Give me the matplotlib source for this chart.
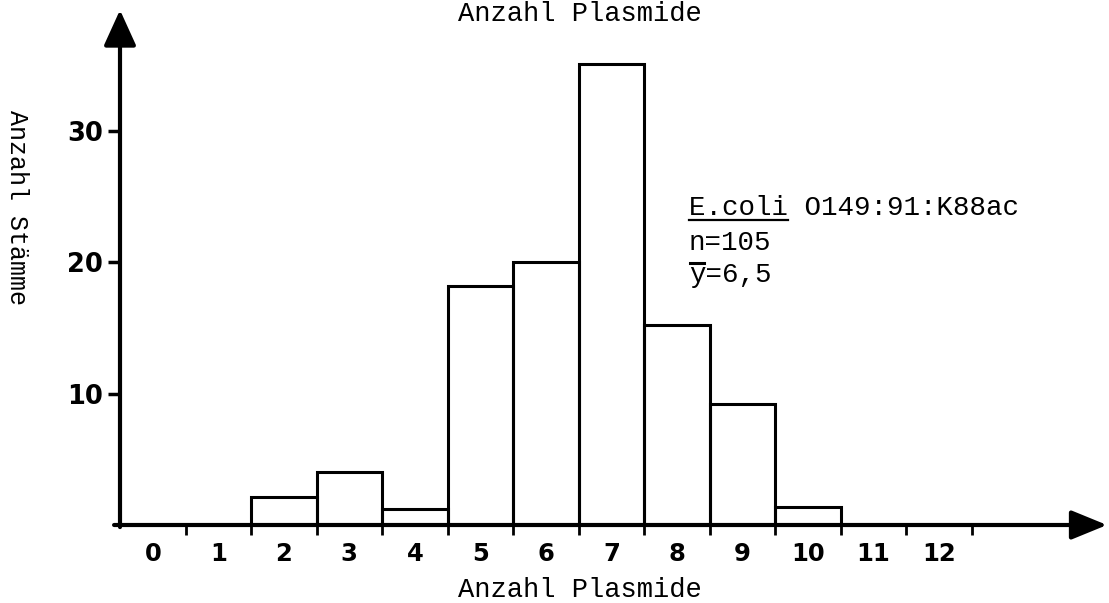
import numpy as np
import matplotlib
matplotlib.use("Agg")
import matplotlib.pyplot as plt
from matplotlib.lines import Line2D

# Daten
plasmide = [2, 3, 4, 5, 6, 7, 8, 9, 10]
staemme = [2.1, 4.0, 1.2, 18.2, 20.0, 35.1, 15.2, 9.2, 1.35]
x_labels = [str(i) for i in range(13)]
y_ticks = [10, 20, 30]

mono = "Liberation Mono"
sans = "DejaVu Sans"

W, H = 1109, 603
fig = plt.figure(figsize=(W / 100, H / 100), dpi=100)

# Achse in Pixelkoordinaten platzieren
left, right, bottom, top = 120, 1107, 525, 10
ax = fig.add_axes([left / W, (H - bottom) / H, (right - left) / W, (bottom - top) / H])
ax.set_xlim(-0.5, (right - 153) / 65.5)
ax.set_ylim(0, (bottom - top) / 13.13)
for s in ax.spines.values():
    s.set_visible(False)

# Balken
ax.bar(plasmide, staemme, width=1.0, fill=False, edgecolor="black", linewidth=2.2)

# Achsen mit Pfeilen
ax.annotate("", xy=(1, 0), xytext=(-0.006, 0), xycoords="axes fraction",
            arrowprops=dict(arrowstyle="-|>,head_length=1.1,head_width=0.45",
                            lw=3, color="black", shrinkA=0, shrinkB=0,
                            mutation_scale=20), annotation_clip=False)
ax.annotate("", xy=(0, 1), xytext=(0, -0.004), xycoords="axes fraction",
            arrowprops=dict(arrowstyle="-|>,head_length=1.1,head_width=0.5",
                            lw=3, color="black", shrinkA=0, shrinkB=0,
                            mutation_scale=20), annotation_clip=False)

# x-Ticks: Beschriftungen bei ganzen Zahlen, Striche bei halben
ax.set_xticks(range(13))
ax.set_xticklabels(x_labels, fontsize=17.5, fontweight="bold", family=sans)
ax.tick_params(axis="x", which="major", length=0, pad=12)
ax.set_xticks(np.arange(0.5, 13.0, 1.0), minor=True)
ax.tick_params(axis="x", which="minor", length=7, width=2, direction="out")

ax.set_yticks(y_ticks)
ax.set_yticklabels([str(v) for v in y_ticks], fontsize=18.5, fontweight="bold", family=sans)
ax.tick_params(axis="y", length=9, width=2.5, direction="out", pad=3)

# Achsentitel
fig.text(580 / W, 1 - 590 / H, "Anzahl Plasmide", family=mono, fontsize=19.5,
         ha="center", va="center")
fig.text(580 / W, 1 - 1 / H, "Anzahl Plasmide", family=mono, fontsize=19.5,
         ha="center", va="top")
fig.text(17 / W, 1 - 207 / H, "Anzahl Stämme", family=mono, fontsize=18,
         rotation=-90, ha="center", va="center")

# Beschriftung im Diagramm
t1 = fig.text(689 / W, 1 - 208 / H, "E.coli O149:91:K88ac", family=mono,
              fontsize=19.8, ha="left", va="center")
fig.text(689 / W, 1 - 243 / H, "n=105", family=mono, fontsize=19.8,
         ha="left", va="center")
t3 = fig.text(689 / W, 1 - 275 / H, "y=6,5", family=mono, fontsize=19.8,
              ha="left", va="center")

fig.canvas.draw()
r = fig.canvas.get_renderer()
bb = t1.get_window_extent(r)
cw = bb.width / len(t1.get_text())
fig.add_artist(Line2D([bb.x0, bb.x0 + 6 * cw], [bb.y0 + 1, bb.y0 + 1],
                      transform=None, color="black", lw=1.6))
bb3 = t3.get_window_extent(r)
cw3 = bb3.width / len(t3.get_text())
fig.add_artist(Line2D([bb3.x0 + 1, bb3.x0 + cw3 - 2], [bb3.y1 - 1, bb3.y1 - 1],
                      transform=None, color="black", lw=2.2))

fig.savefig("out.png", dpi=100)
